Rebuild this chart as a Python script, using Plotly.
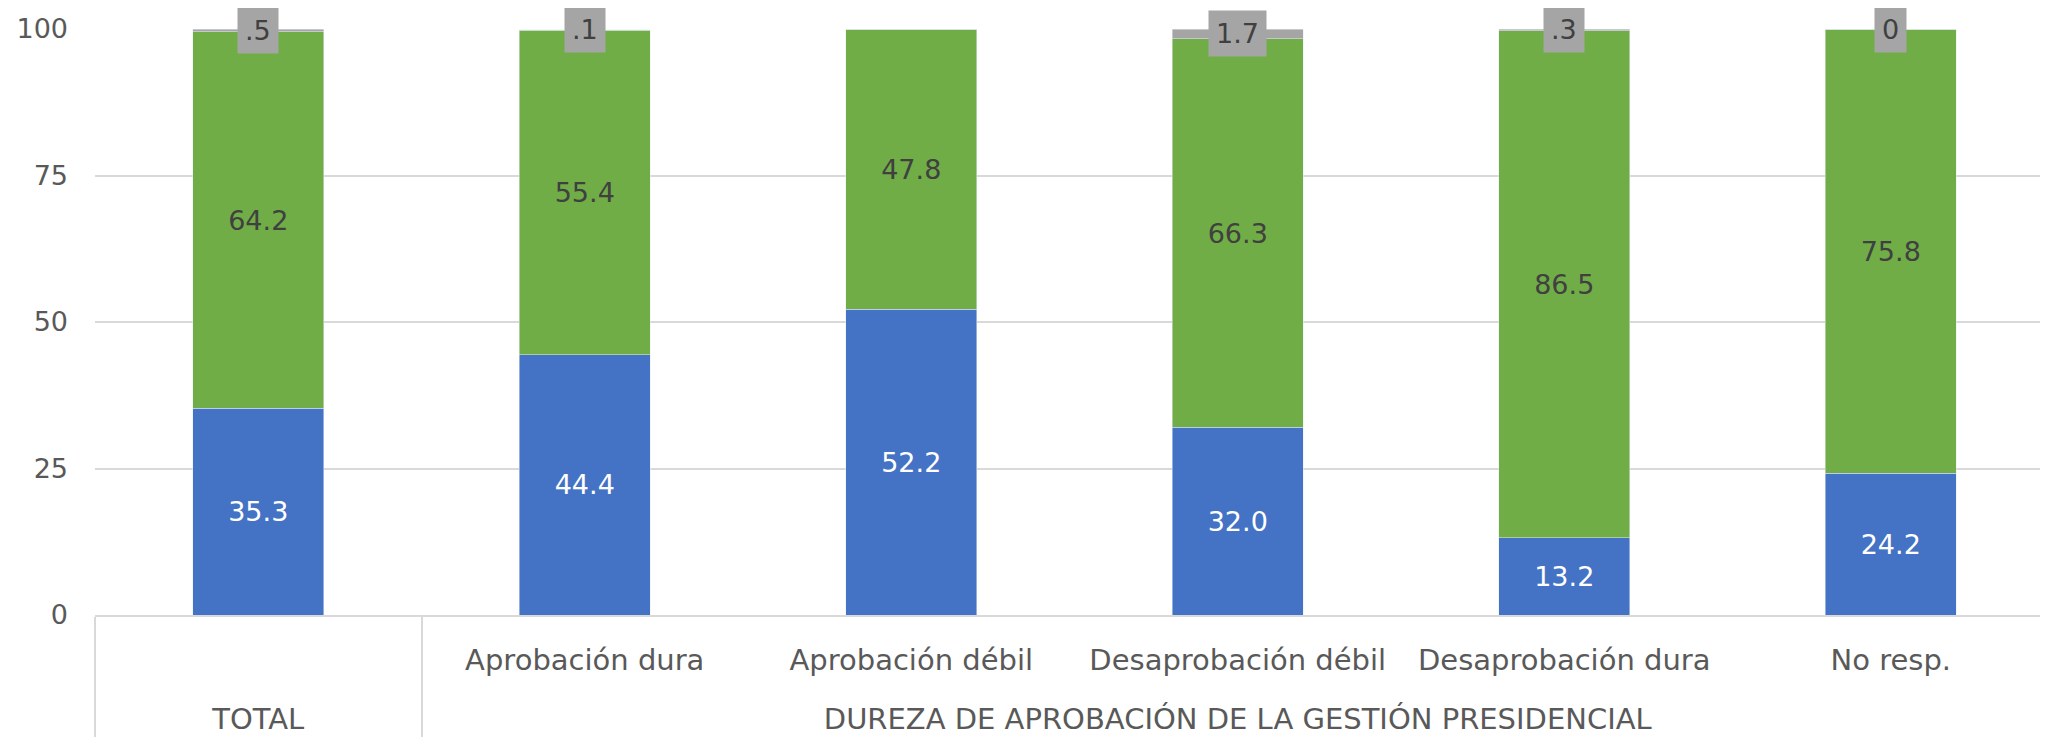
import plotly.graph_objects as go

GROUP = "DUREZA DE APROBACIÓN DE LA GESTIÓN PRESIDENCIAL"
outer = ["TOTAL", GROUP, GROUP, GROUP, GROUP, GROUP]
inner = [" ", "Aprobación dura", "Aprobación débil", "Desaprobación débil",
         "Desaprobación dura", "No resp."]

blue_vals = [35.3, 44.4, 52.2, 32.0, 13.2, 24.2]
green_vals = [64.2, 55.4, 47.8, 66.3, 86.5, 75.8]
gray_vals = [0.5, 0.1, None, 1.7, 0.3, 0.0]
gray_labels = [".5", ".1", None, "1.7", ".3", "0"]

FONT = "DejaVu Sans"
BLUE = "#4472C4"
GREEN = "#70AD47"
GRAY = "#A5A5A5"
TXT = "#595959"
DARK = "#404040"
FS = 27
XFS = 29

x = [outer, [s + "<br><span style='font-size:41px'> </span>" for s in inner]]
fig = go.Figure()
fig.add_bar(x=x, y=blue_vals, marker_color=BLUE, width=0.4,
            text=[f"{v:.1f}" for v in blue_vals], textposition="inside",
            insidetextanchor="middle", textangle=0,
            textfont=dict(color="white", size=FS, family=FONT), showlegend=False)
fig.add_bar(x=x, y=green_vals, marker_color=GREEN, width=0.4,
            text=[f"{v:.1f}" for v in green_vals], textposition="inside",
            insidetextanchor="middle", textangle=0,
            textfont=dict(color=DARK, size=FS, family=FONT), showlegend=False)
fig.add_bar(x=x, y=[v if v is not None else 0 for v in gray_vals],
            marker_color=GRAY, width=0.4, showlegend=False)

for i, (b, g, gr, lab) in enumerate(zip(blue_vals, green_vals, gray_vals, gray_labels)):
    if lab is None:
        continue
    fig.add_annotation(x=i, y=b + g + gr / 2, xref="x", yref="y", text=lab,
                       showarrow=False, bgcolor=GRAY, borderpad=7,
                       font=dict(color=DARK, size=FS, family=FONT))

fig.update_layout(
    barmode="stack", width=2048, height=739,
    margin=dict(l=87, r=2, t=21, b=132, autoexpand=False),
    plot_bgcolor="white", paper_bgcolor="white",
    font=dict(family=FONT, color=TXT, size=FS),
)
fig.update_yaxes(range=[0, 100], tickvals=[0, 25, 50, 75, 100],
                 gridcolor="#D9D9D9", gridwidth=2, zeroline=False,
                 showline=False, ticklabelstandoff=26, automargin=False,
                 tickfont=dict(size=FS, color=TXT, family=FONT))
fig.update_xaxes(type="multicategory", range=[-0.5, 5.5],
                 showline=True, linecolor="#D9D9D9", linewidth=2,
                 showdividers=True, dividercolor="#D9D9D9", dividerwidth=2,
                 ticklabelstandoff=18, automargin=False,
                 tickfont=dict(size=XFS, color=TXT, family=FONT))

fig.write_html("out.html")
